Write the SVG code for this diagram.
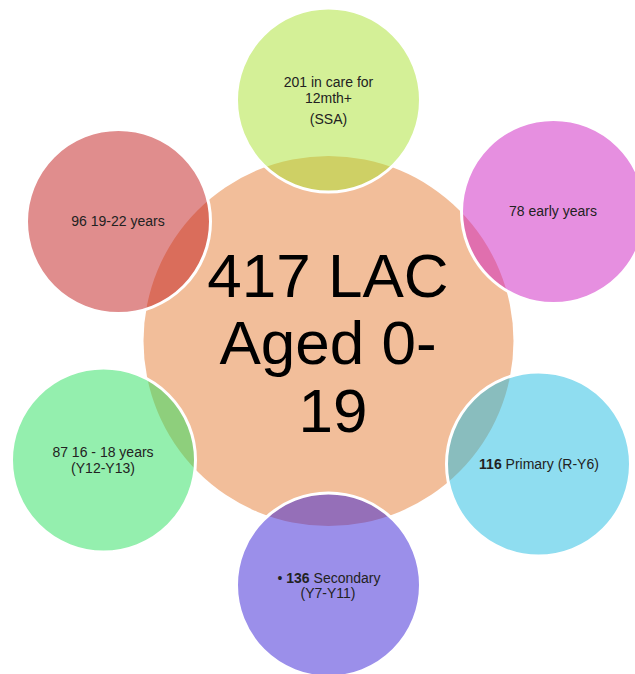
<svg xmlns="http://www.w3.org/2000/svg" width="635" height="674" viewBox="0 0 635 674">
<style>
.sat{stroke:#fff;stroke-width:3;fill-opacity:0.5}
.t{font-family:"Liberation Sans",Arial,sans-serif;font-size:14px;fill:#222;text-anchor:middle}
.big{font-family:"Liberation Sans",Arial,sans-serif;font-size:62px;fill:#000;text-anchor:middle}
</style>
<rect width="635" height="674" fill="#fff"/>
<g id="center">
<circle cx="328.5" cy="341" r="185" fill="#F2BE9A"/>
<text class="big" x="328" y="297">417 LAC</text>
<text class="big" x="328" y="364">Aged 0-</text>
<text class="big" x="333" y="432">19</text>
</g>
<g id="connectors"></g>
<g id="n-ssa">
<circle class="sat" cx="328.5" cy="100" r="92" fill="#A9E12F"/>
<text class="t" x="328.5" y="87">201 in care for</text>
<text class="t" x="328.5" y="103">12mth+</text>
<text class="t" x="328.5" y="124">(SSA)</text>
</g>
<g id="n-early">
<circle class="sat" cx="553.5" cy="211.5" r="92" fill="#CD1FC1"/>
<text class="t" x="553" y="216">78 early years</text>
</g>
<g id="n-primary">
<circle class="sat" cx="538.5" cy="464" r="92" fill="#1FBBE1"/>
<text class="t" x="539" y="469"><tspan font-weight="bold">116</tspan> Primary (R-Y6)</text>
</g>
<g id="n-secondary">
<circle class="sat" cx="328.5" cy="585" r="92" fill="#371FD5"/>
<text class="t" x="329" y="583">• <tspan font-weight="bold">136</tspan> Secondary</text>
<text class="t" x="328" y="598">(Y7-Y11)</text>
</g>
<g id="n-16-18">
<circle class="sat" cx="103.5" cy="460" r="92" fill="#29DF5D"/>
<text class="t" x="103" y="457">87 16 - 18 years</text>
<text class="t" x="103" y="473">(Y12-Y13)</text>
</g>
<g id="n-19-22">
<circle class="sat" cx="118.5" cy="221.5" r="92" fill="#C11B1B"/>
<text class="t" x="118" y="226">96 19-22 years</text>
</g>
</svg>
